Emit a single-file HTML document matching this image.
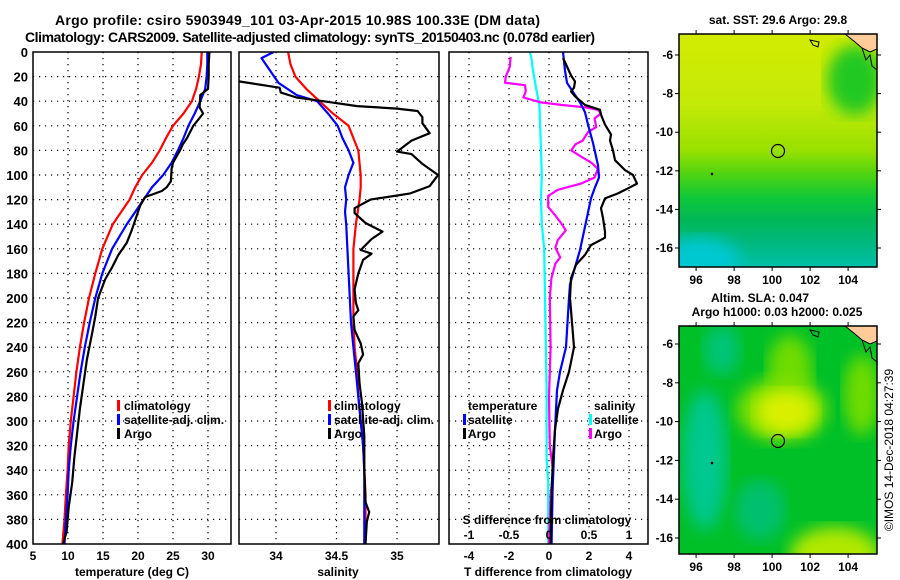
<!DOCTYPE html>
<html><head><meta charset="utf-8"><style>
html,body{margin:0;padding:0;background:#fff;}
svg{display:block;font-family:"Liberation Sans",Arial,sans-serif;font-weight:bold;}
text{fill:#000;}
</style></head><body>
<svg id="fig" width="900" height="580" viewBox="0 0 900 580" xmlns="http://www.w3.org/2000/svg">
<defs>
<linearGradient id="sstGrad" x1="0" y1="0" x2="0" y2="1">
<stop offset="0" stop-color="#d2ec00"/><stop offset="0.3" stop-color="#c4ea08"/>
<stop offset="0.5" stop-color="#98e000"/><stop offset="0.6" stop-color="#50d410"/>
<stop offset="0.7" stop-color="#10c838"/><stop offset="0.8" stop-color="#00b858"/>
<stop offset="0.9" stop-color="#00b880"/><stop offset="1" stop-color="#00c0a8"/>
</linearGradient>
<filter id="blur8"><feGaussianBlur stdDeviation="8"/></filter>
<clipPath id="c1"><rect x="33" y="52" width="198" height="492"/></clipPath>
<clipPath id="c2"><rect x="239" y="52" width="200" height="492"/></clipPath>
<clipPath id="c3"><rect x="449" y="52" width="199" height="492"/></clipPath>
<clipPath id="cm1"><rect x="679" y="34" width="198" height="233"/></clipPath>
<clipPath id="cm2"><rect x="679" y="326" width="198" height="228"/></clipPath>
</defs>

<text x="55" y="25" font-size="14" textLength="485">Argo profile: csiro 5903949_101 03-Apr-2015 10.98S 100.33E (DM data)</text>
<text x="25" y="42" font-size="14" textLength="570">Climatology: CARS2009. Satellite-adjusted climatology: synTS_20150403.nc (0.078d earlier)</text>

<g id="grids"></g>
<g id="series"></g>
<g id="axes"></g>

<g font-size="12">
<rect x="117" y="400" width="3" height="11" fill="#f00"/><text x="124" y="410">climatology</text>
<rect x="117" y="414" width="3" height="11" fill="#00f"/><text x="124" y="424">satellite-adj. clim.</text>
<rect x="117" y="428" width="3" height="11" fill="#000"/><text x="124" y="438">Argo</text>
</g>
<g font-size="12">
<rect x="328" y="400" width="3" height="11" fill="#f00"/><text x="334" y="410">climatology</text>
<rect x="328" y="414" width="3" height="11" fill="#00f"/><text x="334" y="424">satellite-adj. clim.</text>
<rect x="328" y="428" width="3" height="11" fill="#000"/><text x="334" y="438">Argo</text>
</g>
<g font-size="12">
<text x="468" y="410">temperature</text>
<rect x="463" y="414" width="3" height="11" fill="#00f"/><text x="468" y="424">satellite</text>
<rect x="463" y="428" width="3" height="11" fill="#000"/><text x="468" y="438">Argo</text>
<text x="594" y="410">salinity</text>
<rect x="589" y="414" width="3" height="11" fill="#0ff"/><text x="594" y="424">satellite</text>
<rect x="589" y="428" width="3" height="11" fill="#f0f"/><text x="594" y="438">Argo</text>
</g>

<g>
<g clip-path="url(#cm1)">
<rect x="679" y="34" width="198" height="233" fill="url(#sstGrad)"/>
<ellipse cx="700" cy="262" rx="40" ry="25" fill="#00c8d0" filter="url(#blur8)"/>
<ellipse cx="855" cy="80" rx="28" ry="35" fill="#20c820" filter="url(#blur8)"/>
<polygon points="845,34 877,34 877,49 870,52 862,48 855,42" fill="#ffcc99" stroke="#000" stroke-width="1"/>
<polyline points="862,48 866,60 870,55 872,66 877,70" fill="none" stroke="#000" stroke-width="1"/>
<polygon points="810,40 819,42 818,47 813,45" fill="none" stroke="#000" stroke-width="1"/>
</g>
<rect x="679" y="34" width="198" height="233" fill="none" stroke="#000" stroke-width="1.5"/>
<circle cx="778" cy="151" r="6.5" fill="none" stroke="#000" stroke-width="1.2"/>
<circle cx="712" cy="174" r="1.3" fill="#000"/>
</g>
<text x="778" y="24" font-size="12" text-anchor="middle">sat. SST: 29.6 Argo: 29.8</text>

<g>
<g clip-path="url(#cm2)">
<rect x="679" y="326" width="198" height="228" fill="#00c028"/>
<ellipse cx="705" cy="460" rx="22" ry="70" fill="#00c890" filter="url(#blur8)"/>
<ellipse cx="722" cy="350" rx="18" ry="25" fill="#00c478" filter="url(#blur8)"/>
<ellipse cx="790" cy="370" rx="22" ry="35" fill="#70dc00" filter="url(#blur8)"/>
<ellipse cx="782" cy="410" rx="45" ry="32" fill="#80e000" filter="url(#blur8)"/>
<ellipse cx="786" cy="412" rx="30" ry="22" fill="#d8f000" filter="url(#blur8)"/>
<ellipse cx="862" cy="395" rx="18" ry="40" fill="#70dc00" filter="url(#blur8)"/>
<ellipse cx="835" cy="555" rx="45" ry="28" fill="#b0e800" filter="url(#blur8)"/>
<ellipse cx="760" cy="510" rx="25" ry="30" fill="#00c070" filter="url(#blur8)"/>
<polygon points="845,326 877,326 877,341 870,344 862,340 855,334" fill="#ffcc99" stroke="#000" stroke-width="1"/>
<polyline points="862,340 866,352 870,347 872,358 877,362" fill="none" stroke="#000" stroke-width="1"/>
<polygon points="810,330 819,332 818,337 813,335" fill="none" stroke="#000" stroke-width="1"/>
</g>
<rect x="679" y="326" width="198" height="228" fill="none" stroke="#000" stroke-width="1.5"/>
<circle cx="778" cy="441" r="6.5" fill="none" stroke="#000" stroke-width="1.2"/>
<circle cx="712" cy="463" r="1.3" fill="#000"/>
</g>
<text x="760" y="302" font-size="12" text-anchor="middle">Altim. SLA: 0.047</text>
<text x="777" y="316" font-size="12" text-anchor="middle">Argo h1000: 0.03 h2000: 0.025</text>
<g id="mapaxes"></g>
<text transform="translate(893,450) rotate(-90)" font-size="12" font-weight="normal" text-anchor="middle">©IMOS 14-Dec-2018 04:27:39</text>
</svg>
<script>
const tDep = [0,10,20,30,40,50,60,70,80,90,100,110,120,140,160,180,200,220,240,260,280,300,320,340,360,380,400];
const climT = [29.1,29.0,28.7,28.3,27.7,26.5,25.0,24.0,23.1,22.0,20.6,19.6,18.8,16.4,14.9,13.9,13.0,12.3,11.7,11.2,10.8,10.4,10.1,9.95,9.7,9.5,9.2];
const satT = [29.9,29.9,29.8,29.6,28.9,28.1,27.2,26.5,25.7,24.8,23.6,22.0,20.8,18.4,16.3,14.9,13.9,13.1,12.4,11.8,11.3,10.8,10.4,10.1,9.95,9.7,9.5];
const argoTDep = [0,10,20,30,35,45,50,55,60,70,75,80,90,95,105,110,113,118,125,135,145,155,165,175,185,200,215,230,250,270,290,310,330,350,370,390,400];
const argoT = [30.2,30.1,30.1,30.0,28.9,28.8,29.3,28.6,27.9,27.0,26.4,26.0,25.0,24.8,24.7,24.1,23.4,21.0,20.3,19.7,19.1,18.4,17.2,16.3,15.3,14.3,13.9,13.4,12.7,12.2,11.7,11.3,10.9,10.6,10.1,9.8,9.3];
const climS = [34.10,34.12,34.16,34.25,34.36,34.47,34.60,34.64,34.68,34.69,34.70,34.70,34.69,34.66,34.64,34.64,34.64,34.64,34.65,34.67,34.68,34.70,34.72,34.73,34.74,34.74,34.73];
const satSDep = [0,5,15,25,35,40,50,60,70,80,90,100,110,120,130,140,160,180,200,220,240,260,280,300,320,340,360,380,400];
const satS = [33.98,33.88,33.95,34.02,34.17,34.34,34.43,34.51,34.55,34.60,34.64,34.60,34.57,34.58,34.57,34.58,34.59,34.60,34.61,34.62,34.64,34.66,34.68,34.70,34.72,34.73,34.73,34.73,34.73];
const argoSDep = [20,24,29,33,37,40,44,46,48,53,58,66,72,81,83,91,100,109,115,120,127,131,139,146,152,161,164,169,180,193,204,210,215,226,237,246,253,269,285,312,339,366,374,382,400];
const argoS = [33.55,33.70,34.03,34.04,34.17,34.39,34.67,35.0,35.17,35.21,35.21,35.27,35.12,35.0,35.12,35.21,35.34,35.27,35.11,34.78,34.65,34.65,34.74,34.88,34.79,34.70,34.79,34.72,34.68,34.65,34.66,34.68,34.64,34.65,34.70,34.72,34.68,34.69,34.71,34.73,34.73,34.74,34.77,34.75,34.74];
const satDTDep = [0,15,25,35,41,49,59,74,92,102,110,119,142,161,175,189,200,240,260,275,307,356,400];
const satDT = [0.7,0.8,0.9,1.3,1.55,1.8,1.95,2.2,2.45,2.5,2.3,2.1,1.8,1.55,1.3,1.05,1.0,0.85,0.55,0.4,0.3,0.18,0.13];
const argoDTDep = [5,10,19,24,29,32,36,43,47,51,59,67,72,80,88,96,100,107,110,115,119,127,135,146,151,157,165,173,184,200,220,240,260,275,290,307,330,350,380,400];
const argoDT = [0.7,0.85,1.1,1.3,1.25,1.1,1.3,1.8,2.55,2.6,2.8,3.1,3.05,3.2,3.3,3.8,4.2,4.4,4.05,3.45,2.8,2.6,2.7,2.8,2.8,2.1,1.8,1.35,1.1,1.05,1.15,1.25,1.0,0.7,0.45,0.3,0.2,0.15,0.1,0.08];
const argoDSDep = [4,12,20,25,27,32,37,41,43,45,47,50,54,61,65,72,75,80,85,90,95,102,107,112,117,126,133,139,145,153,159,167,172,184,200,240,280,320,340,360,400];
const argoDS = [-0.48,-0.49,-0.54,-0.55,-0.3,-0.29,-0.32,-0.1,0.15,0.45,0.61,0.65,0.57,0.59,0.49,0.42,0.33,0.28,0.4,0.53,0.61,0.57,0.4,0.11,-0.01,-0.01,0.08,0.15,0.21,0.11,0.08,0.14,0.08,0.03,0.01,0.02,0.0,0.01,0.05,0.02,0.0];
const satDSDep = [0,5,15,30,43,61,80,100,120,140,160,200,275,300,330,350,400];
const satDS = [-0.24,-0.22,-0.2,-0.16,-0.12,-0.11,-0.1,-0.09,-0.1,-0.09,-0.06,-0.05,-0.03,-0.03,-0.03,-0.01,-0.01];
const depthTicks = [0,20,40,60,80,100,120,140,160,180,200,220,240,260,280,300,320,340,360,380,400];
const tempTicks = [5,10,15,20,25,30];
const salTicks = [34,34.5,35];
const dTTicks = [-4,-2,0,2,4];
const dSTicks = [-1,-0.5,0,0.5,1];
const lonTicks = [96,98,100,102,104];
const latTicks = [-6,-8,-10,-12,-14,-16];

const yD = d => 52 + d*1.23;
const xT = t => 33 + (t-5)*7;
const xS = s => 276 + (s-34)*121;
const xDT = v => 549 + v*20;
const xDS = v => 549 + v*80;
const NS='http://www.w3.org/2000/svg';
function mk(tag, attrs, parent){const e=document.createElementNS(NS,tag);for(const k in attrs)e.setAttribute(k,attrs[k]);parent.appendChild(e);return e;}
const grids=document.getElementById('grids'), series=document.getElementById('series'), axes=document.getElementById('axes'), mapaxes=document.getElementById('mapaxes');

const panels=[{x0:33,x1:231,ticks:tempTicks,sx:xT,name:'temperature-panel'},{x0:239,x1:439,ticks:salTicks,sx:xS,name:'salinity-panel'},{x0:449,x1:648,ticks:dTTicks,sx:xDT,name:'difference-panel'}];
panels.forEach(p=>{
  depthTicks.forEach(d=>{ if(d>0&&d<400){const l=mk('line',{x1:p.x0,x2:p.x1,y1:yD(d),y2:yD(d),stroke:'#000','stroke-width':1.2,'stroke-dasharray':'1.2 4.8'},grids);
    
    }});
  p.ticks.forEach(t=>{const x=p.sx(t); if(x>p.x0+1&&x<p.x1-1){const l=mk('line',{x1:x,x2:x,y1:52,y2:544,stroke:'#000','stroke-width':1.2,'stroke-dasharray':'1.2 4.8'},grids);
    
    }
    const tx=mk('text',{x:x,y:560,'font-size':12,'text-anchor':'middle'},axes);tx.textContent=String(t);
    
    
  });
  const r=mk('rect',{x:p.x0,y:52,width:p.x1-p.x0,height:492,fill:'none',stroke:'#000','stroke-width':1.5},axes);
  
  
});
depthTicks.forEach(d=>{const t=mk('text',{x:28,y:yD(d)+5,'font-size':13,'text-anchor':'end'},axes);t.textContent=String(d);
  
  });
dSTicks.forEach(v=>{const t=mk('text',{x:xDS(v),y:539,'font-size':12,'text-anchor':'middle'},axes);t.textContent=String(v);
  
  });
[['temperature (deg C)',132,'temperature-axis-title'],['salinity',338,'salinity-axis-title'],['T difference from climatology',548,'t-diff-axis-title']].forEach(a=>{
  const t=mk('text',{x:a[1],y:576,'font-size':12,'text-anchor':'middle'},axes);t.textContent=a[0];
  
  });
{const t=mk('text',{x:547,y:524,'font-size':12,'text-anchor':'middle'},axes);t.textContent='S difference from climatology';
 
 }

function line(deps, vals, sx, color, clip, name){
  const pts=deps.map((d,i)=>sx(vals[i]).toFixed(1)+','+yD(d).toFixed(1)).join(' ');
  const pl=mk('polyline',{points:pts,fill:'none',stroke:color,'stroke-width':2.2,'stroke-linejoin':'round','clip-path':'url(#'+clip+')'},series);
  
  
}
line(tDep,climT,xT,'#f00','c1','clim-temperature-line');
line(tDep,satT,xT,'#00f','c1','sat-temperature-line');
line(argoTDep,argoT,xT,'#000','c1','argo-temperature-line');
line(tDep,climS,xS,'#f00','c2','clim-salinity-line');
line(satSDep,satS,xS,'#00f','c2','sat-salinity-line');
line(argoSDep,argoS,xS,'#000','c2','argo-salinity-line');
line(satDSDep,satDS,xDS,'#0ff','c3','sat-s-diff-line');
line(argoDSDep,argoDS,xDS,'#f0f','c3','argo-s-diff-line');
line(satDTDep,satDT,xDT,'#00f','c3','sat-t-diff-line');
line(argoDTDep,argoDT,xDT,'#000','c3','argo-t-diff-line');

const lonX = lon => 679 + (lon-95.1)*19;
[[34,267,55,19.3],[326,554,344,19.4]].forEach(m=>{
  lonTicks.forEach(lo=>{const x=lonX(lo);
    mk('line',{x1:x,x2:x,y1:m[1],y2:m[1]+4,stroke:'#000'},mapaxes);
    mk('line',{x1:x,x2:x,y1:m[0],y2:m[0]-4,stroke:'#000'},mapaxes);
    const t=mk('text',{x:x,y:m[1]+17,'font-size':12,'text-anchor':'middle'},mapaxes);t.textContent=String(lo);
    
    });
  latTicks.forEach(la=>{const y=m[2]+(-6-la)*m[3];
    mk('line',{x1:675,x2:679,y1:y,y2:y,stroke:'#000'},mapaxes);
    mk('line',{x1:877,x2:881,y1:y,y2:y,stroke:'#000'},mapaxes);
    const t=mk('text',{x:673,y:y+4,'font-size':12,'text-anchor':'end'},mapaxes);t.textContent=String(la);
    
    });
});
</script>
</body></html>
